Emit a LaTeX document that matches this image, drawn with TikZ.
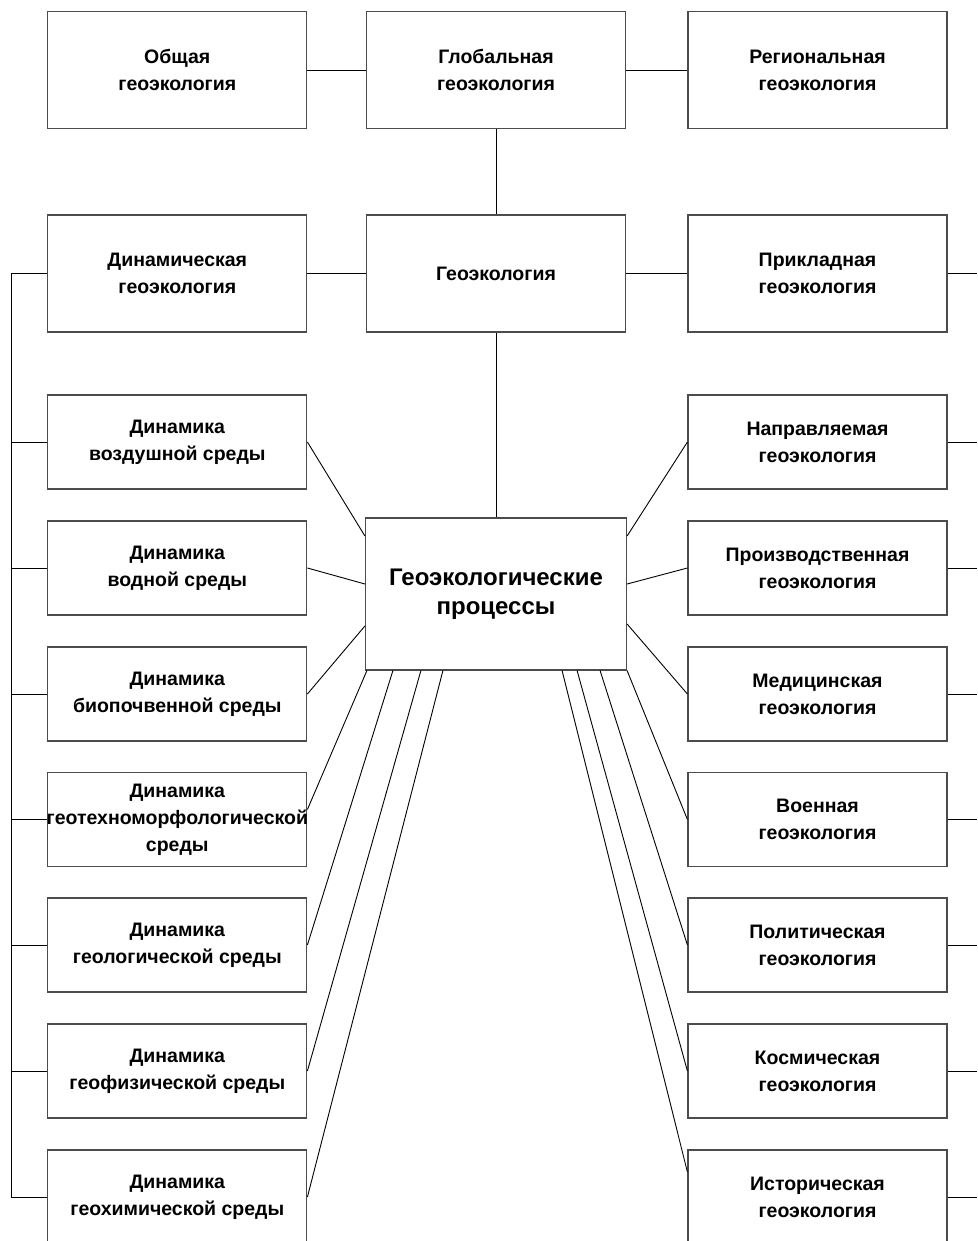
\documentclass[tikz,border=0pt]{standalone}
\usepackage{fontspec}
\setmainfont{Liberation Sans}
\begin{document}
\begin{tikzpicture}[x=1pt,y=-1pt,
  box/.style={draw=black!70,line width=1.2pt,fill=white,inner sep=0pt,align=center,
    font=\bfseries\fontsize{19.5}{27}\selectfont},
  colbox/.style={box,minimum width=259pt,minimum height=94pt},
  rowbox/.style={box,minimum width=259pt,minimum height=117pt},
  conn/.style={draw=black,line width=0.9pt}]
\useasboundingbox (0,0) rectangle (977,1241);
% top rows
\node[rowbox] (ob) at (177.3,70) {Общая\\геоэкология};
\node[rowbox] (gl) at (496,70) {Глобальная\\геоэкология};
\node[rowbox] (rg) at (817.5,70) {Региональная\\геоэкология};
\node[rowbox] (dyn) at (177.3,273.5) {Динамическая\\геоэкология};
\node[rowbox] (geo) at (496,273.5) {Геоэкология};
\node[rowbox] (pr) at (817.5,273.5) {Прикладная\\геоэкология};
% center
\node[box,minimum width=261pt,minimum height=152pt,font=\bfseries\fontsize{24}{29}\selectfont] (gp) at (496,594) {Геоэкологические\\процессы};
% left column
\node[colbox] (l1) at (177.3,442) {Динамика\\воздушной среды};
\node[colbox] (l2) at (177.3,568) {Динамика\\водной среды};
\node[colbox] (l3) at (177.3,694) {Динамика\\биопочвенной среды};
\node[colbox] (l4) at (177.3,819.5) {Динамика\\\makebox[0pt]{геотехноморфологической}\\среды};
\node[colbox] (l5) at (177.3,945) {Динамика\\геологической среды};
\node[colbox] (l6) at (177.3,1071) {Динамика\\геофизической среды};
\node[colbox] (l7) at (177.3,1197) {Динамика\\геохимической среды};
% right column
\node[colbox] (r1) at (817.5,442) {Направляемая\\геоэкология};
\node[colbox] (r2) at (817.5,568) {Производственная\\геоэкология};
\node[colbox] (r3) at (817.5,694) {Медицинская\\геоэкология};
\node[colbox] (r4) at (817.5,819.5) {Военная\\геоэкология};
\node[colbox] (r5) at (817.5,945) {Политическая\\геоэкология};
\node[colbox] (r6) at (817.5,1071) {Космическая\\геоэкология};
\node[colbox] (r7) at (817.5,1197) {Историческая\\геоэкология};
% bus coordinates
\coordinate (lbt) at (11,273.5);
\coordinate (lbb) at (11,1197);
\foreach \n/\y in {r1/442,r2/568,r3/694,r4/819.5,r5/945,r6/1071,r7/1197}
  \coordinate (e\n) at (977,\y);
\coordinate (epr) at (977,273.5);
% top connectors
\draw[conn] (ob.east) -- (gl.west);
\draw[conn] (gl.east) -- (rg.west);
\draw[conn] (gl.south) -- (geo.north);
\draw[conn] (dyn.east) -- (geo.west);
\draw[conn] (geo.east) -- (pr.west);
\draw[conn] (geo.south) -- (gp.north);
% left bus
\draw[conn] (dyn.west) -- (lbt) -- (lbb) -- (l7.west);
\foreach \n in {l1,l2,l3,l4,l5,l6}
  \draw[conn] (\n.west) -- (\n.west -| lbt);
% right edge lines
\draw[conn] (pr.east) -- (epr);
\foreach \n in {r1,r2,r3,r4,r5,r6,r7}
  \draw[conn] (\n.east) -- (e\n);
% left diagonals
\draw[conn] (l1.east) -- ([yshift=58pt]gp.west);
\draw[conn] (l2.east) -- ([yshift=10pt]gp.west);
\draw[conn] (l3.east) -- ([yshift=-32pt]gp.west);
\draw[conn] ([yshift=10pt]l4.east) -- ([xshift=2pt]gp.south west);
\draw[conn] (l5.east) -- ([xshift=28pt]gp.south west);
\draw[conn] (l6.east) -- ([xshift=56pt]gp.south west);
\draw[conn] (l7.east) -- ([xshift=78pt]gp.south west);
% right diagonals
\draw[conn] (r1.west) -- ([yshift=58pt]gp.east);
\draw[conn] (r2.west) -- ([yshift=10pt]gp.east);
\draw[conn] (r3.west) -- ([yshift=-30pt]gp.east);
\draw[conn] (r4.west) -- (gp.south east);
\draw[conn] (r5.west) -- ([xshift=-27pt]gp.south east);
\draw[conn] (r6.west) -- ([xshift=-50pt]gp.south east);
\draw[conn] ([yshift=25pt]r7.west) -- ([xshift=-65pt]gp.south east);
\end{tikzpicture}
\end{document}
